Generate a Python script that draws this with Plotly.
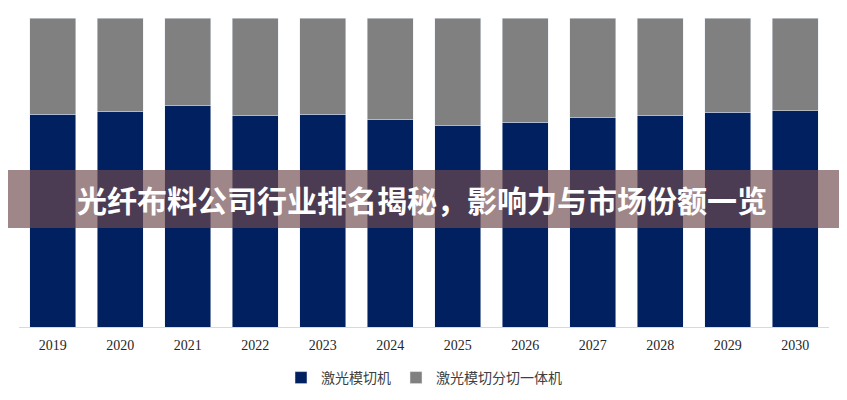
import plotly.graph_objects as go

years = ["2019", "2020", "2021", "2022", "2023", "2024",
         "2025", "2026", "2027", "2028", "2029", "2030"]
die_cut = [68.9, 69.8, 71.8, 68.3, 68.9, 67.2, 65.1, 66.3, 67.7, 68.5, 69.5, 70.0]
die_cut_slit = [31.1, 30.2, 28.2, 31.7, 31.1, 32.8, 34.9, 33.7, 32.3, 31.5, 30.5, 30.0]
names = ["激光模切机", "激光模切分切一体机"]
title = "光纤布料公司行业排名揭秘，影响力与市场份额一览"

serif = "Liberation Serif, Noto Sans CJK SC, serif"

fig = go.Figure()
fig.add_trace(go.Bar(x=years, y=die_cut, name=names[0], marker_color="#002060"))
fig.add_trace(go.Bar(x=years, y=die_cut_slit, name=names[1], marker_color="#808080"))

# page body has an 8px margin, so the figure is a bit smaller
fig.update_layout(
    width=839, height=392,
    margin=dict(l=11, r=18, t=10, b=73, autoexpand=False),
    barmode="stack", bargap=0.32,
    plot_bgcolor="white", paper_bgcolor="white",
    showlegend=True,
    legend=dict(orientation="h", x=0.5, xanchor="center", y=-0.165, yanchor="middle",
                traceorder="normal", font=dict(family=serif, size=14, color="#404040"),
                itemwidth=30),
    font=dict(family=serif, size=14, color="#262626"),
)
fig.update_xaxes(showline=True, linecolor="#d9d9d9", linewidth=1, ticks="",
                 ticklabelstandoff=5,
                 tickfont=dict(family=serif, size=14, color="#262626"))
fig.update_yaxes(range=[0, 100], visible=False, showgrid=False)

# banner across the middle
fig.add_shape(type="rect", xref="paper", yref="paper",
              x0=-19 / 810, x1=1 + 18 / 810, y0=0.320, y1=0.508,
              fillcolor="rgba(112,75,78,0.67)", line_width=0, layer="above")
fig.add_annotation(text="<b>" + title + "</b>", xref="paper", yref="paper",
                   x=0.497, y=0.414, showarrow=False,
                   font=dict(family="Noto Sans CJK SC", size=30, color="white"))

fig.write_html("out.html")
